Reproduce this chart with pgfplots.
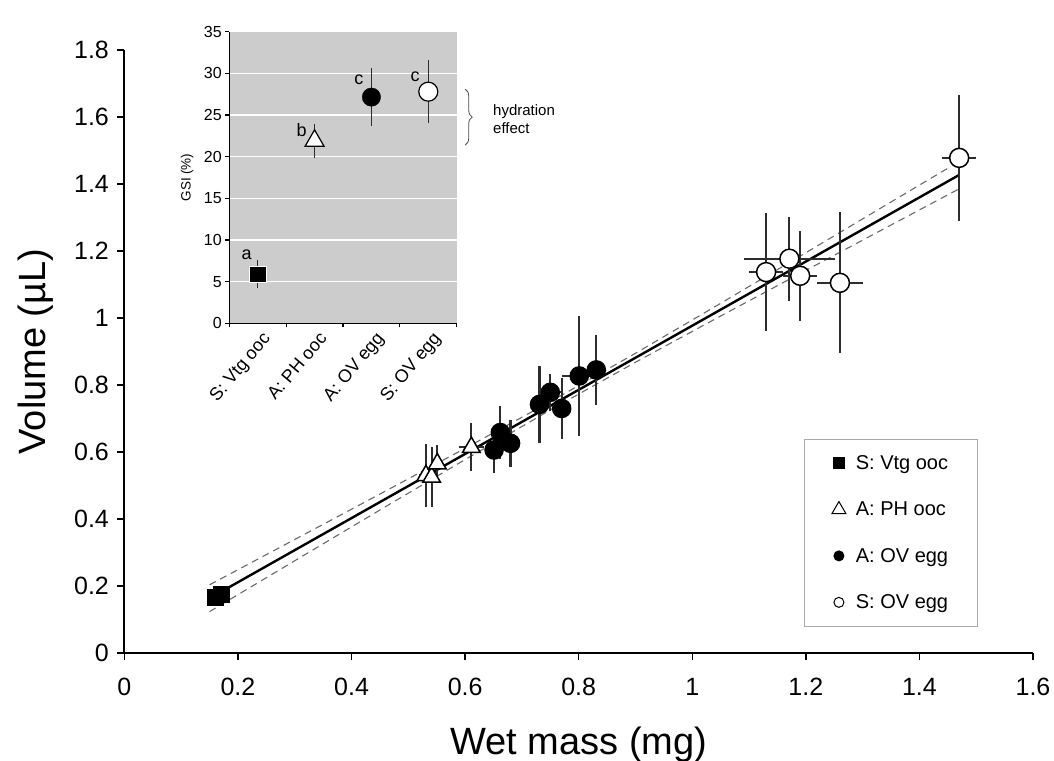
\documentclass[border=0pt]{standalone}
\usepackage{fontspec}
\setmainfont{Liberation Sans}
\usepackage{pgfplots}
\usepackage{pgfplotstable}
\pgfplotsset{compat=1.18}
\usetikzlibrary{decorations.pathreplacing}
\definecolor{insetgray}{RGB}{204,204,204}
\definecolor{errgray}{RGB}{45,45,45}
\definecolor{bandgray}{RGB}{105,105,105}
\definecolor{legframe}{RGB}{170,170,170}

\pgfplotstableread{
x y ex ey
0.161 0.165 0.008 0.010
0.171 0.176 0.008 0.010
}\sqdata
\pgfplotstableread{
x y ex ey
0.531 0.530 0.012 0.095
0.541 0.525 0.008 0.090
0.551 0.565 0.008 0.055
0.611 0.614 0.022 0.072
}\tridata
\pgfplotstableread{
x y ex ey
0.651 0.606 0.010 0.070
0.662 0.658 0.010 0.080
0.680 0.626 0.015 0.070
0.731 0.742 0.010 0.115
0.750 0.778 0.020 0.055
0.770 0.730 0.010 0.092
0.801 0.827 0.030 0.180
0.831 0.845 0.010 0.105
}\fcdata
\pgfplotstableread{
x y ex ey
1.130 1.137 0.030 0.177
1.171 1.177 0.080 0.125
1.190 1.126 0.030 0.135
1.260 1.105 0.040 0.210
1.470 1.478 0.030 0.188
}\ocdata

\pgfplotsset{
  eb/.style={error bars/.cd, x dir=both, x explicit, y dir=both, y explicit,
    error mark=none, error bar style={line width=2.2pt, errgray}},
}

\begin{document}
\begin{tikzpicture}
\useasboundingbox (-124.4pt,-107pt) rectangle (929.6pt,653pt);
\begin{axis}[
  at={(0pt,0pt)}, anchor=south west,
  scale only axis, width=908.6pt, height=603pt,
  xmin=0, xmax=1.6, ymin=0, ymax=1.8,
  axis lines=left, axis line style={-, line width=1.8pt},
  xtick={0,0.2,0.4,0.6,0.8,1,1.2,1.4,1.6},
  ytick={0,0.2,0.4,0.6,0.8,1,1.2,1.4,1.6,1.8},
  tick align=outside, major tick length=7pt,
  tick style={line width=1.5pt, black},
  tick label style={font=\fontsize{25}{30}\selectfont},
  xticklabel style={yshift=-15pt},
  yticklabel style={xshift=-5pt},
  /pgf/number format/assume math mode=true,
  /pgf/number format/fixed,
  xlabel={Wet mass (mg)}, ylabel={Volume (µL)},
  label style={font=\fontsize{38}{44}\selectfont},
  xlabel style={at={(axis description cs:0.5,-0.1675)}, anchor=base},
  ylabel style={at={(axis description cs:-0.098,0.5)}, anchor=center, rotate=0},
  legend cell align=left,
  legend style={at={(0.7485,0.355)}, anchor=north west, draw=legframe, line width=1pt,
    fill=white, font=\fontsize{20}{24}\selectfont, inner xsep=27pt, inner ysep=14pt,
    row sep=27pt, /tikz/every odd column/.append style={column sep=8pt}},
  clip=false,
]
% confidence band
\addplot[forget plot, bandgray, line width=1.1pt, dash pattern=on 7pt off 5pt] coordinates {
(0.15,0.2036) (0.3,0.3388) (0.45,0.4745) (0.6,0.6110) (0.75,0.7501) (0.9,0.8947)
(1.05,1.0438) (1.2,1.1948) (1.35,1.3464) (1.455,1.452)};
\addplot[forget plot, bandgray, line width=1.1pt, dash pattern=on 7pt off 5pt] coordinates {
(0.15,0.1236) (0.3,0.2754) (0.45,0.4269) (0.6,0.5774) (0.75,0.7254) (0.9,0.8679)
(1.05,1.0059) (1.2,1.1420) (1.35,1.2776) (1.47,1.3857)};
% regression line
\addplot[forget plot, black, line width=2.4pt] coordinates {(0.16,0.173) (1.47,1.427)};
% data
\addplot[forget plot, only marks, mark=square*, mark size=8pt,
  mark options={fill=black, draw=black, line width=1pt}, eb]
  table[x=x, y=y, x error=ex, y error=ey] {\sqdata};
\addplot[forget plot, only marks, mark=triangle*, mark size=10.2pt,
  mark options={fill=white, draw=black, line width=1.5pt}, eb]
  table[x=x, y=y, x error=ex, y error=ey] {\tridata};
\addplot[forget plot, only marks, mark=*, mark size=9.2pt,
  mark options={fill=black, draw=black, line width=1.2pt}, eb]
  table[x=x, y=y, x error=ex, y error=ey] {\fcdata};
\addplot[forget plot, only marks, mark=*, mark size=9.5pt,
  mark options={fill=white, draw=black, line width=1.5pt}, eb]
  table[x=x, y=y, x error=ex, y error=ey] {\ocdata};
% legend
\addlegendimage{only marks, mark=square*, mark size=5.3pt, mark options={fill=black, draw=black}}
\addlegendentry{S: Vtg ooc}
\addlegendimage{only marks, mark=triangle*, mark size=8pt, mark options={fill=white, draw=black, line width=1pt}}
\addlegendentry{A: PH ooc}
\addlegendimage{only marks, mark=*, mark size=5pt, mark options={fill=black, draw=black}}
\addlegendentry{A: OV egg}
\addlegendimage{only marks, mark=*, mark size=5pt, mark options={fill=white, draw=black, line width=1pt}}
\addlegendentry{S: OV egg}
\end{axis}

\begin{axis}[
  at={(104.9pt,329.7pt)}, anchor=south west,
  scale only axis, width=227.4pt, height=291.6pt,
  xmin=0, xmax=4, ymin=0, ymax=35,
  axis lines=left, axis line style={-, line width=1.3pt},
  axis background/.style={fill=insetgray},
  ymajorgrids, major grid style={white, line width=1.3pt},
  xtick={0,1,2,3,4}, xticklabels={},
  ytick={0,5,10,15,20,25,30,35},
  extra x ticks={0.5,1.5,2.5,3.5},
  extra x tick labels={S: Vtg ooc, A: PH ooc, A: OV egg, S: OV egg},
  extra x tick style={major tick length=0pt,
    xticklabel style={rotate=50, anchor=north east, yshift=-4pt, font=\fontsize{18}{21}\selectfont}},
  tick align=outside, major tick length=4pt,
  tick style={line width=1.1pt, black},
  tick label style={font=\fontsize{16}{19}\selectfont},
  /pgf/number format/assume math mode=true,
  ylabel={GSI (\%)},
  ylabel style={at={(axis description cs:-0.185,0.5)}, anchor=center, font=\fontsize{13.5}{16}\selectfont},
  clip=false,
]
\addplot[only marks, mark=square*, mark size=8.3pt, mark options={fill=black, draw=white, line width=0.6pt},
  error bars/.cd, y dir=both, y explicit, error mark=none, error bar style={line width=1.2pt, errgray}]
  coordinates {(0.5,5.9) +- (0,1.7)};
\addplot[only marks, mark=triangle*, mark size=11pt, mark options={fill=white, draw=black, line width=1.2pt},
  error bars/.cd, y dir=both, y explicit, error mark=none, error bar style={line width=1.2pt, errgray}]
  coordinates {(1.5,21.9) +- (0,2.0)};
\addplot[only marks, mark=*, mark size=9.2pt, mark options={fill=black, draw=black},
  error bars/.cd, y dir=both, y explicit, error mark=none, error bar style={line width=1.2pt, errgray}]
  coordinates {(2.5,27.15) +- (0,3.45)};
\addplot[only marks, mark=*, mark size=9.5pt, mark options={fill=white, draw=black, line width=1.2pt},
  error bars/.cd, y dir=both, y explicit, error mark=none, error bar style={line width=1.2pt, errgray}]
  coordinates {(3.5,27.8) +- (0,3.8)};
\node[font=\fontsize{18}{21}\selectfont] at (axis cs:0.305,8.2) {a};
\node[font=\fontsize{18}{21}\selectfont] at (axis cs:1.273,23.2) {b};
\node[font=\fontsize{18}{21}\selectfont] at (axis cs:2.28,29.2) {c};
\node[font=\fontsize{18}{21}\selectfont] at (axis cs:3.27,29.6) {c};
\draw[black!70, line width=0.8pt, decorate, decoration={brace, amplitude=7pt}]
  (axis cs:4.15,28.1) -- (axis cs:4.15,21.4);
\node[anchor=west, align=left, font=\fontsize{15}{18}\selectfont] at (axis cs:4.58,24.5) {hydration\\effect};
\end{axis}
\end{tikzpicture}
\end{document}
